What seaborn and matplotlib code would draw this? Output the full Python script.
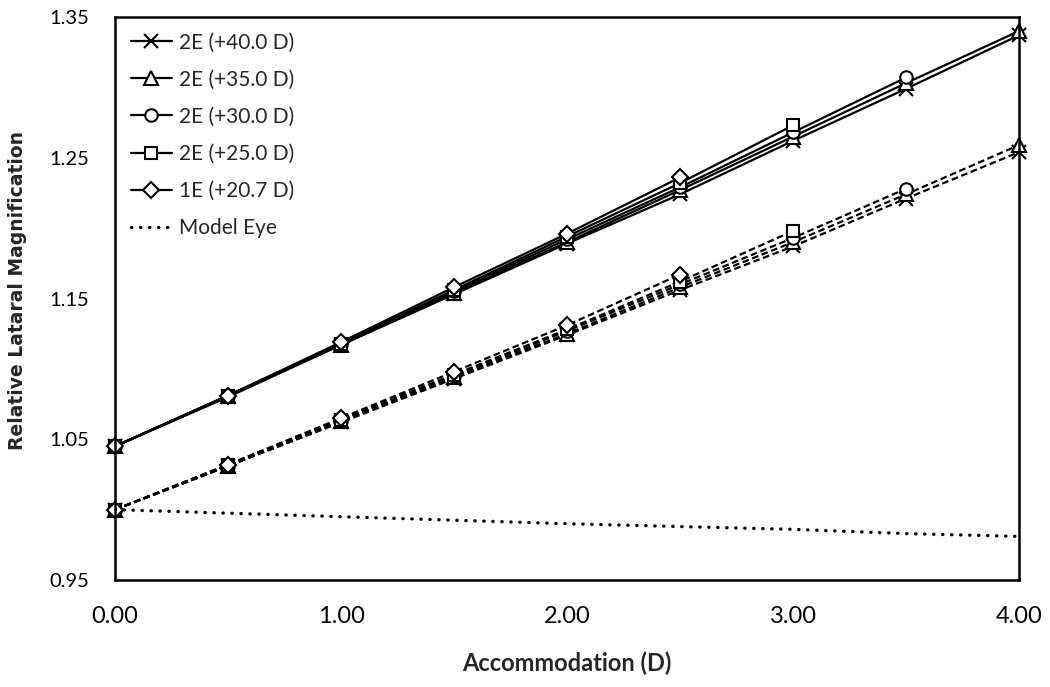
import matplotlib
matplotlib.use("Agg")
import matplotlib.pyplot as plt
import pandas as pd
import seaborn as sns

# ---- data ----
accommodation = [0.0, 0.5, 1.0, 1.5, 2.0, 2.5, 3.0, 3.5, 4.0]
series_labels = ["2E (+40.0 D)", "2E (+35.0 D)", "2E (+30.0 D)", "2E (+25.0 D)", "1E (+20.7 D)"]

solid_40 = [1.045, 1.080, 1.117, 1.153, 1.189, 1.224, 1.262, 1.299, 1.337]
solid_35 = [1.045, 1.081, 1.117, 1.154, 1.190, 1.227, 1.265, 1.303, 1.340]
solid_30 = [1.045, 1.081, 1.118, 1.155, 1.192, 1.229, 1.268, 1.307]
solid_25 = [1.045, 1.081, 1.118, 1.156, 1.194, 1.232, 1.273]
solid_20 = [1.045, 1.081, 1.119, 1.158, 1.196, 1.236]

dashed_40 = [1.000, 1.031, 1.062, 1.093, 1.124, 1.156, 1.187, 1.221, 1.254]
dashed_35 = [1.000, 1.031, 1.063, 1.094, 1.125, 1.158, 1.190, 1.224, 1.259]
dashed_30 = [1.000, 1.031, 1.063, 1.095, 1.127, 1.160, 1.193, 1.228]
dashed_25 = [1.000, 1.032, 1.064, 1.096, 1.128, 1.162, 1.198]
dashed_20 = [1.000, 1.032, 1.065, 1.098, 1.131, 1.167]

model_eye = [1.000, 0.9975, 0.995, 0.9925, 0.990, 0.988, 0.986, 0.983, 0.981]

x_ticks = [0, 1, 2, 3, 4]
x_ticklabels = ["0.00", "1.00", "2.00", "3.00", "4.00"]
y_ticks = [0.95, 1.05, 1.15, 1.25, 1.35]
y_ticklabels = ["0.95", "1.05", "1.15", "1.25", "1.35"]

# ---- style ----
sns.set_theme(style="white")
plt.rcParams["font.family"] = ["Lato", "DejaVu Sans"]

fig = plt.figure(figsize=(10.5, 6.87), dpi=100)
ax = fig.add_axes([0.1095, 0.1557, 0.8610, 0.8196])

markers = ["x", "^", "o", "s", "D"]
msizes = [10, 10, 9, 9, 8]
solids = [solid_40, solid_35, solid_30, solid_25, solid_20]
dashes = [dashed_40, dashed_35, dashed_30, dashed_25, dashed_20]

common = dict(color="black", markerfacecolor="white", markeredgecolor="black",
              markeredgewidth=1.5, linewidth=1.6, legend=False, ax=ax,
              clip_on=False)

for vals, m, ms in zip(dashes, markers, msizes):
    df = pd.DataFrame({"x": accommodation[:len(vals)], "y": vals})
    sns.lineplot(data=df, x="x", y="y", marker=m, markersize=ms,
                 linestyle=(0, (3, 1.6)), label="_nolegend_", **common)

for vals, m, ms, lab in zip(solids, markers, msizes, series_labels):
    df = pd.DataFrame({"x": accommodation[:len(vals)], "y": vals})
    sns.lineplot(data=df, x="x", y="y", marker=m, markersize=ms,
                 linestyle="-", label=lab, **common)

df_me = pd.DataFrame({"x": accommodation, "y": model_eye})
sns.lineplot(data=df_me, x="x", y="y", color="black", linewidth=2.4,
             linestyle=(0, (0.1, 2.6)), dash_capstyle="round",
             label="Model Eye", legend=False, ax=ax)

# order legend entries
handles, labels = ax.get_legend_handles_labels()
order = series_labels + ["Model Eye"]
hmap = dict(zip(labels, handles))
leg = ax.legend([hmap[l] for l in order], order, loc="upper left",
                bbox_to_anchor=(0.0, 1.0), frameon=False, fontsize=15,
                handlelength=2.0, handletextpad=0.3, labelspacing=0.82,
                numpoints=1, borderaxespad=0.35)

ax.set_xlim(0, 4)
ax.set_ylim(0.95, 1.35)
ax.set_xticks(x_ticks)
ax.set_xticklabels(x_ticklabels, fontsize=17)
ax.set_yticks(y_ticks)
ax.set_yticklabels(y_ticklabels, fontsize=14.5)
ax.tick_params(axis="both", direction="inout", length=11, width=1.5,
               colors="black")
ax.tick_params(axis="x", pad=13)
ax.tick_params(axis="y", pad=13)
ax.set_xlabel("Accommodation (D)", fontsize=17, fontweight="bold", labelpad=18)
ax.set_ylabel("Relative Lataral Magnification", fontsize=13.5, fontweight="bold",
              fontfamily="DejaVu Sans")
ax.yaxis.set_label_coords(-0.097, 0.515)

for s in ax.spines.values():
    s.set_visible(True)
    s.set_color("black")
    s.set_linewidth(1.8)

ax.grid(False)
fig.savefig("out.png", dpi=100, facecolor="white")
